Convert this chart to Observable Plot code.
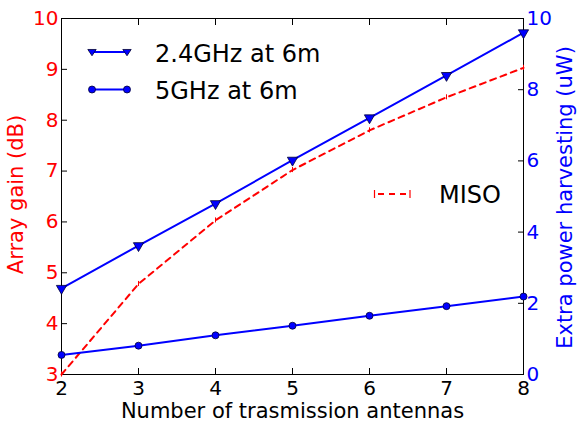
<!DOCTYPE html>
<html>
<head>
<meta charset="utf-8">
<script src="https://cdn.jsdelivr.net/npm/d3@7"></script>
<script src="https://cdn.jsdelivr.net/npm/@observablehq/plot@0.6"></script>
<style>
  html, body { margin: 0; padding: 0; background: #fff; }
  #wrap { position: relative; width: 579px; height: 423px; font-family: "DejaVu Sans", sans-serif; }
  #legend { position: absolute; left: 0; top: 0; pointer-events: none; }
</style>
</head>
<body>
<div id="wrap"></div>
<script>
// ---- data ----
const antennas = [2, 3, 4, 5, 6, 7, 8];
const misoGain = [3.0, 4.78, 6.03, 7.02, 7.8, 8.45, 9.03];      // dB, left axis
const power24 = [2.42, 3.62, 4.8, 6.02, 7.21, 8.40, 9.6];       // uW, right axis
const power5 = [0.55, 0.81, 1.10, 1.37, 1.65, 1.92, 2.19];      // uW, right axis
const leftTicks = [3, 4, 5, 6, 7, 8, 9, 10];
const rightTicks = [0, 2, 4, 6, 8, 10];
const xTicks = [2, 3, 4, 5, 6, 7, 8];
const seriesNames = ["2.4GHz at 6m", "5GHz at 6m", "MISO"];
const xLabel = "Number of trasmission antennas";
const leftLabel = "Array gain (dB)";
const rightLabel = "Extra power harvesting (uW)";

// right axis [0,10] mapped onto left axis domain [3,10]
const toLeft = v => 3 + v * 0.7;
const fromLeft = y => Math.round((y - 3) / 0.7);

const miso = antennas.map((a, i) => ({a, g: misoGain[i]}));
const s24 = antennas.map((a, i) => ({a, p: power24[i]}));
const s5 = antennas.map((a, i) => ({a, p: power5[i]}));

const RED = "#ff0000", BLUE = "#0000ff";

const chart = Plot.plot({
  width: 579,
  height: 423,
  marginLeft: 61,
  marginRight: 56,
  marginTop: 18,
  marginBottom: 49,
  style: {fontFamily: "DejaVu Sans, sans-serif", fontSize: "20px", background: "white"},
  x: {domain: [2, 8]},
  y: {domain: [3, 10]},
  marks: [
    Plot.axisX(xTicks, {anchor: "bottom", tickSize: -6, tickPadding: 12, fontSize: 20, fill: "black", stroke: "black", label: null, tickFormat: d => String(d)}),
    Plot.axisX(xTicks, {anchor: "top", tickSize: -6, text: null, label: null, stroke: "black"}),
    Plot.axisY(leftTicks, {anchor: "left", tickSize: -6, tickPadding: 9, fontSize: 20, fill: RED, stroke: "black", label: null, tickFormat: d => String(d)}),
    Plot.axisY(rightTicks.map(toLeft), {anchor: "right", tickSize: -6, tickPadding: 9, fontSize: 20, fill: BLUE, stroke: "black", label: null, tickFormat: fromLeft}),
    Plot.frame({stroke: "black", strokeWidth: 1}),
    Plot.line(miso, {x: "a", y: "g", stroke: RED, strokeWidth: 2, strokeDasharray: "6,5"}),
    Plot.ruleX(miso, {x: "a", y1: d => d.g - 0.05, y2: d => d.g + 0.05, stroke: RED, strokeWidth: 1}),
    Plot.line(s24, {x: "a", y: d => toLeft(d.p), stroke: BLUE, strokeWidth: 2}),
    Plot.dot(s24, {x: "a", y: d => toLeft(d.p), symbol: "triangle", rotate: 180, r: 3.8, fill: BLUE, stroke: "#000033", strokeWidth: 0.8}),
    Plot.line(s5, {x: "a", y: d => toLeft(d.p), stroke: BLUE, strokeWidth: 2}),
    Plot.dot(s5, {x: "a", y: d => toLeft(d.p), symbol: "circle", r: 3.5, fill: BLUE, stroke: "#000033", strokeWidth: 0.8}),
    Plot.text([xLabel], {text: d => d, frameAnchor: "bottom", dy: 37, fontSize: 21, fill: "black", textAnchor: "middle", lineAnchor: "middle"}),
    Plot.text([leftLabel], {text: d => d, frameAnchor: "left", dx: -45, dy: -2, rotate: -90, fontSize: 21, fill: RED, textAnchor: "middle", lineAnchor: "middle"}),
    Plot.text([rightLabel], {text: d => d, frameAnchor: "right", dx: 42, dy: 1, rotate: -90, fontSize: 21, fill: BLUE, textAnchor: "middle", lineAnchor: "middle"})
  ]
});

const wrap = document.getElementById("wrap");
wrap.appendChild(chart);

// ---- legends (overlay) ----
const svg = d3.select(wrap).append("svg").attr("id", "legend").attr("width", 579).attr("height", 423);

function tri(g, cx, cy) {
  const s = 4.2;
  g.append("path").attr("d", `M${cx - s},${cy - s * 0.6}L${cx + s},${cy - s * 0.6}L${cx},${cy + s * 0.9}Z`)
    .attr("fill", BLUE).attr("stroke", "#000033").attr("stroke-width", 0.8);
}
// 2.4GHz
svg.append("line").attr("x1", 92).attr("x2", 127).attr("y1", 52).attr("y2", 52).attr("stroke", BLUE).attr("stroke-width", 2);
tri(svg, 92, 52); tri(svg, 127, 52);
svg.append("text").attr("x", 155).attr("y", 61.5).attr("font-size", 24).attr("font-family", "DejaVu Sans").text(seriesNames[0]);
// 5GHz
svg.append("line").attr("x1", 92).attr("x2", 127).attr("y1", 89.5).attr("y2", 89.5).attr("stroke", BLUE).attr("stroke-width", 2);
[92, 127].forEach(cx => svg.append("circle").attr("cx", cx).attr("cy", 89.5).attr("r", 3.5).attr("fill", BLUE).attr("stroke", "#000033").attr("stroke-width", 0.8));
svg.append("text").attr("x", 155).attr("y", 98.5).attr("font-size", 24).attr("font-family", "DejaVu Sans").text(seriesNames[1]);
// MISO
svg.append("line").attr("x1", 375).attr("x2", 410).attr("y1", 194).attr("y2", 194).attr("stroke", RED).attr("stroke-width", 2).attr("stroke-dasharray", "6,5").attr("stroke-dashoffset", -3);
[374.5, 410].forEach(x => svg.append("line").attr("x1", x).attr("x2", x).attr("y1", 190).attr("y2", 198).attr("stroke", RED).attr("stroke-width", 1.2));
svg.append("text").attr("x", 439).attr("y", 203).attr("font-size", 24).attr("font-family", "DejaVu Sans").text(seriesNames[2]);
</script>
</body>
</html>
